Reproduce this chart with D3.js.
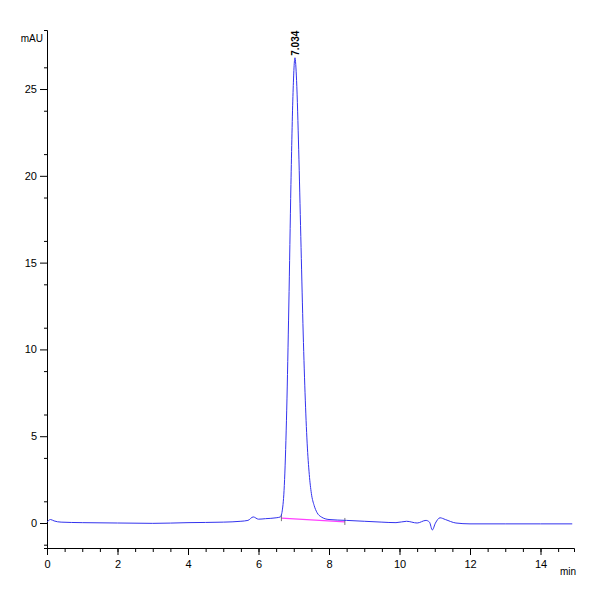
<!DOCTYPE html>
<html>
<head>
<meta charset="utf-8">
<script src="https://cdn.jsdelivr.net/npm/d3@7"></script>
<style>body{margin:0;background:#fff}</style>
</head>
<body>
<svg id="chart" width="600" height="600"></svg>
<script>
// chromatogram trace: [time (min), signal (mAU)]
const trace = [
  [0, 0.05], [0.1, 0.2], [0.2, 0.12], [0.4, 0.05], [1, 0.02], [2, 0.0], [3, -0.02], [4, 0.02],
  [5, 0.05], [5.5, 0.1], [5.7, 0.15], [5.85, 0.35], [6.0, 0.22], [6.2, 0.25], [6.5, 0.3],
  [6.62, 0.35], [6.68, 0.8], [6.74, 2.5], [6.8, 6.5], [6.86, 12.5], [6.92, 19.5], [6.98, 24.8],
  [7.034, 26.8], [7.08, 25.5], [7.14, 21.5], [7.2, 16.5], [7.26, 11.5], [7.32, 7.5], [7.38, 4.6],
  [7.44, 2.8], [7.5, 1.7], [7.58, 1.0], [7.66, 0.6], [7.78, 0.35], [8.0, 0.2], [8.5, 0.15],
  [9.0, 0.1], [9.5, 0.05], [9.9, 0.02], [10.2, 0.1], [10.5, 0.0], [10.75, 0.15], [10.85, 0.05],
  [10.93, -0.4], [11.02, 0.0], [11.15, 0.3], [11.3, 0.2], [11.6, 0.0], [12, -0.05], [13, -0.05],
  [14, -0.05], [14.9, -0.05]
];
const integrationBaseline = [[6.65, 0.28], [8.45, 0.06]];
const peakLabel = { time: 7.034, value: 26.8, text: "7.034" };
const xTicks = [0, 2, 4, 6, 8, 10, 12, 14];
const yTicks = [0, 5, 10, 15, 20, 25];

const svg = d3.select('#chart');
const x = d3.scaleLinear().domain([0, 14.95]).range([47, 574]);
const y = d3.scaleLinear().domain([-1.44, 28.4]).range([548, 30]);
const font = 'Liberation Sans, Arial, sans-serif';

// axes
const xAxis = svg.append('g').attr('transform', 'translate(0,548)')
  .call(d3.axisBottom(x).tickValues(d3.range(0, 15, 0.5)).tickSize(4).tickFormat(''));
xAxis.selectAll('.tick line').attr('y2', 4);
svg.append('g').attr('transform', 'translate(0,548)')
  .call(d3.axisBottom(x).tickValues(xTicks).tickSize(7).tickFormat(d3.format('d')))
  .call(g => g.select('.domain').remove())
  .selectAll('text').attr('font-family', font).attr('font-size', 11).attr('dy', '0.9em');
const yAxisG = svg.append('g').attr('transform', 'translate(47,0)')
  .call(d3.axisLeft(y).tickValues(d3.range(-1.25, 28.5, 2.5).concat([])).tickSize(3).tickFormat(''));
svg.append('g').attr('transform', 'translate(47,0)')
  .call(d3.axisLeft(y).tickValues(yTicks).tickSize(7).tickFormat(d3.format('d')))
  .call(g => g.select('.domain').remove())
  .selectAll('text').attr('font-family', font).attr('font-size', 11);
svg.selectAll('.domain').attr('stroke', '#000');

svg.append('text').attr('x', 43).attr('y', 42).attr('text-anchor', 'end')
  .attr('font-family', font).attr('font-size', 10).text('mAU');
svg.append('text').attr('x', 560).attr('y', 575)
  .attr('font-family', font).attr('font-size', 10).text('min');

// integration baseline
svg.append('path').datum(integrationBaseline)
  .attr('d', d3.line().x(d => x(d[0])).y(d => y(d[1])))
  .attr('stroke', '#ff40ff').attr('stroke-width', 1.2).attr('fill', 'none');
svg.selectAll('.imark').data(integrationBaseline).enter().append('line')
  .attr('x1', d => x(d[0])).attr('x2', d => x(d[0]))
  .attr('y1', d => y(d[1]) - 4).attr('y2', d => y(d[1]) + 3)
  .attr('stroke', '#555').attr('stroke-width', 0.8);

// trace
svg.append('path').datum(trace)
  .attr('d', d3.line().curve(d3.curveMonotoneX).x(d => x(d[0])).y(d => y(d[1])))
  .attr('stroke', '#3333ee').attr('stroke-width', 1).attr('fill', 'none');

// peak label (rotated)
svg.append('text')
  .attr('transform', `translate(${x(peakLabel.time) + 4},${y(peakLabel.value) - 2}) rotate(-90)`)
  .attr('font-family', font).attr('font-size', 10).attr('font-weight', 'bold')
  .text(peakLabel.text);
</script>
</body>
</html>
